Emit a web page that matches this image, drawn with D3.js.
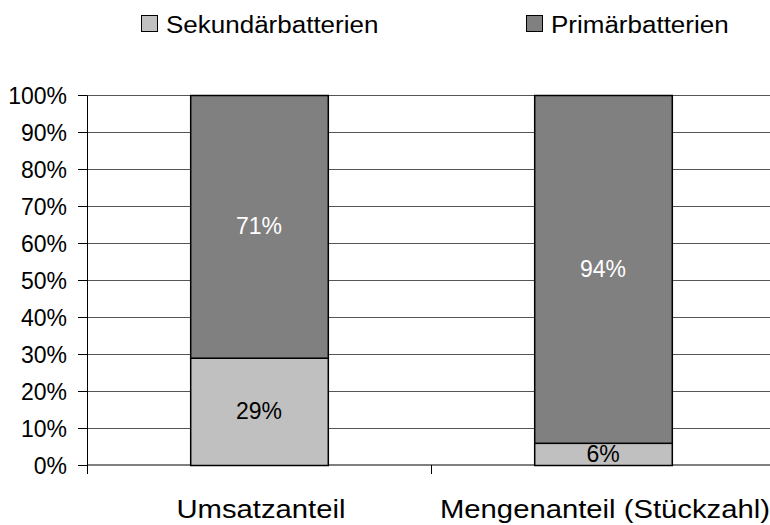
<!DOCTYPE html>
<html>
<head>
<meta charset="utf-8">
<script src="https://cdn.jsdelivr.net/npm/d3@7"></script>
<style>
  body { margin: 0; background: #fff; }
  text { font-family: "Liberation Sans", Arial, sans-serif; }
</style>
</head>
<body>
<svg></svg>
<script>
const categories = ["Umsatzanteil", "Mengenanteil (Stückzahl)"];
const sekundaer = [29, 6];
const primaer = [71, 94];
const seriesNames = ["Sekundärbatterien", "Primärbatterien"];
const seriesColors = ["#c0c0c0", "#808080"];
const labelColors = ["#000", "#fff"];
const yTicks = [0, 10, 20, 30, 40, 50, 60, 70, 80, 90, 100];

const svgWidth = 770, svgHeight = 525;
const margin = { top: 95, right: -5, bottom: 60, left: 87 };
const width = svgWidth - margin.left - margin.right;
const height = svgHeight - margin.top - margin.bottom;

// the original text is drawn a bit wider than the font's natural width
const stretch = 1.17;

const svg = d3.select("svg")
  .attr("width", svgWidth)
  .attr("height", svgHeight);

const g = svg.append("g")
  .attr("transform", "translate(" + margin.left + "," + margin.top + ")");

const x = d3.scaleBand()
  .domain(categories)
  .range([0, width])
  .paddingInner(0.6)
  .paddingOuter(0.3);

const x0 = d3.scaleBand().domain(categories).range([0, width]);

const y = d3.scaleLinear()
  .domain([0, 100])
  .range([height, 0]);

// gridlines
g.append("g")
  .selectAll("line")
  .data(yTicks.filter(t => t > 0))
  .join("line")
  .attr("x1", 0)
  .attr("x2", width)
  .attr("y1", d => y(d) + 0.5)
  .attr("y2", d => y(d) + 0.5)
  .attr("stroke", "#555")
  .attr("stroke-width", 1);

// y axis
const yAxis = g.append("g")
  .call(d3.axisLeft(y).tickValues(yTicks).tickFormat(d => d + "%").tickSize(9).tickSizeOuter(0));
yAxis.style("font-family", null);
yAxis.select(".domain").attr("stroke", "#000");
yAxis.selectAll(".tick line").attr("stroke", "#000");
yAxis.selectAll(".tick text")
  .attr("font-size", 23)
  .attr("fill", "#000")
  .attr("x", -20)
  .attr("dy", "0.35em");

// x axis
const xAxis = g.append("g")
  .attr("transform", "translate(0," + height + ")");
xAxis.append("line")
  .attr("x1", 0).attr("x2", width)
  .attr("stroke", "#000");
xAxis.selectAll(".sep")
  .data([0].concat(categories.slice(1).map(c => x0(c))))
  .join("line")
  .attr("x1", d => d + 0.5).attr("x2", d => d + 0.5)
  .attr("y1", 0).attr("y2", 9)
  .attr("stroke", "#000");
xAxis.selectAll(".cat")
  .data(categories)
  .join("text")
  .attr("x", d => x0(d) + x0.bandwidth() / 2 + 2)
  .attr("y", 53)
  .attr("text-anchor", "middle")
  .attr("font-size", 25)
  .attr("fill", "#000")
  .text(d => d)
  .each(function () {
    const w = this.getComputedTextLength();
    d3.select(this).attr("textLength", w * stretch).attr("lengthAdjust", "spacingAndGlyphs");
  });

// stacked bars
const stackData = categories.map((c, i) => ({ cat: c, s: sekundaer[i], p: primaer[i] }));
const stack = d3.stack().keys(["s", "p"])(stackData);

stack.forEach((layer, li) => {
  const lg = g.append("g");
  lg.selectAll("rect")
    .data(layer)
    .join("rect")
    .attr("x", d => x(d.data.cat) + 0.5)
    .attr("y", d => y(d[1]) + 0.5)
    .attr("width", x.bandwidth())
    .attr("height", d => y(d[0]) - y(d[1]))
    .attr("fill", seriesColors[li])
    .attr("stroke", "#000")
    .attr("stroke-width", 1.5);
  lg.selectAll("text")
    .data(layer)
    .join("text")
    .attr("x", d => x(d.data.cat) + x.bandwidth() / 2)
    .attr("y", d => y((d[0] + d[1]) / 2))
    .attr("dy", "0.35em")
    .attr("text-anchor", "middle")
    .attr("font-size", 23)
    .attr("fill", labelColors[li])
    .text(d => (d[1] - d[0]) + "%");
});

// legend
const legendX = [141, 526];
const legend = svg.append("g");
seriesNames.forEach((name, i) => {
  legend.append("rect")
    .attr("x", legendX[i] + 0.5)
    .attr("y", 15.5)
    .attr("width", 16)
    .attr("height", 16)
    .attr("fill", seriesColors[i])
    .attr("stroke", "#000")
    .attr("stroke-width", 1);
  const t = legend.append("text")
    .attr("x", legendX[i] + 25)
    .attr("y", 33)
    .attr("font-size", 23)
    .attr("fill", "#000")
    .text(name);
  const w = t.node().getComputedTextLength();
  t.attr("textLength", w * 1.13).attr("lengthAdjust", "spacingAndGlyphs");
});
</script>
</body>
</html>
